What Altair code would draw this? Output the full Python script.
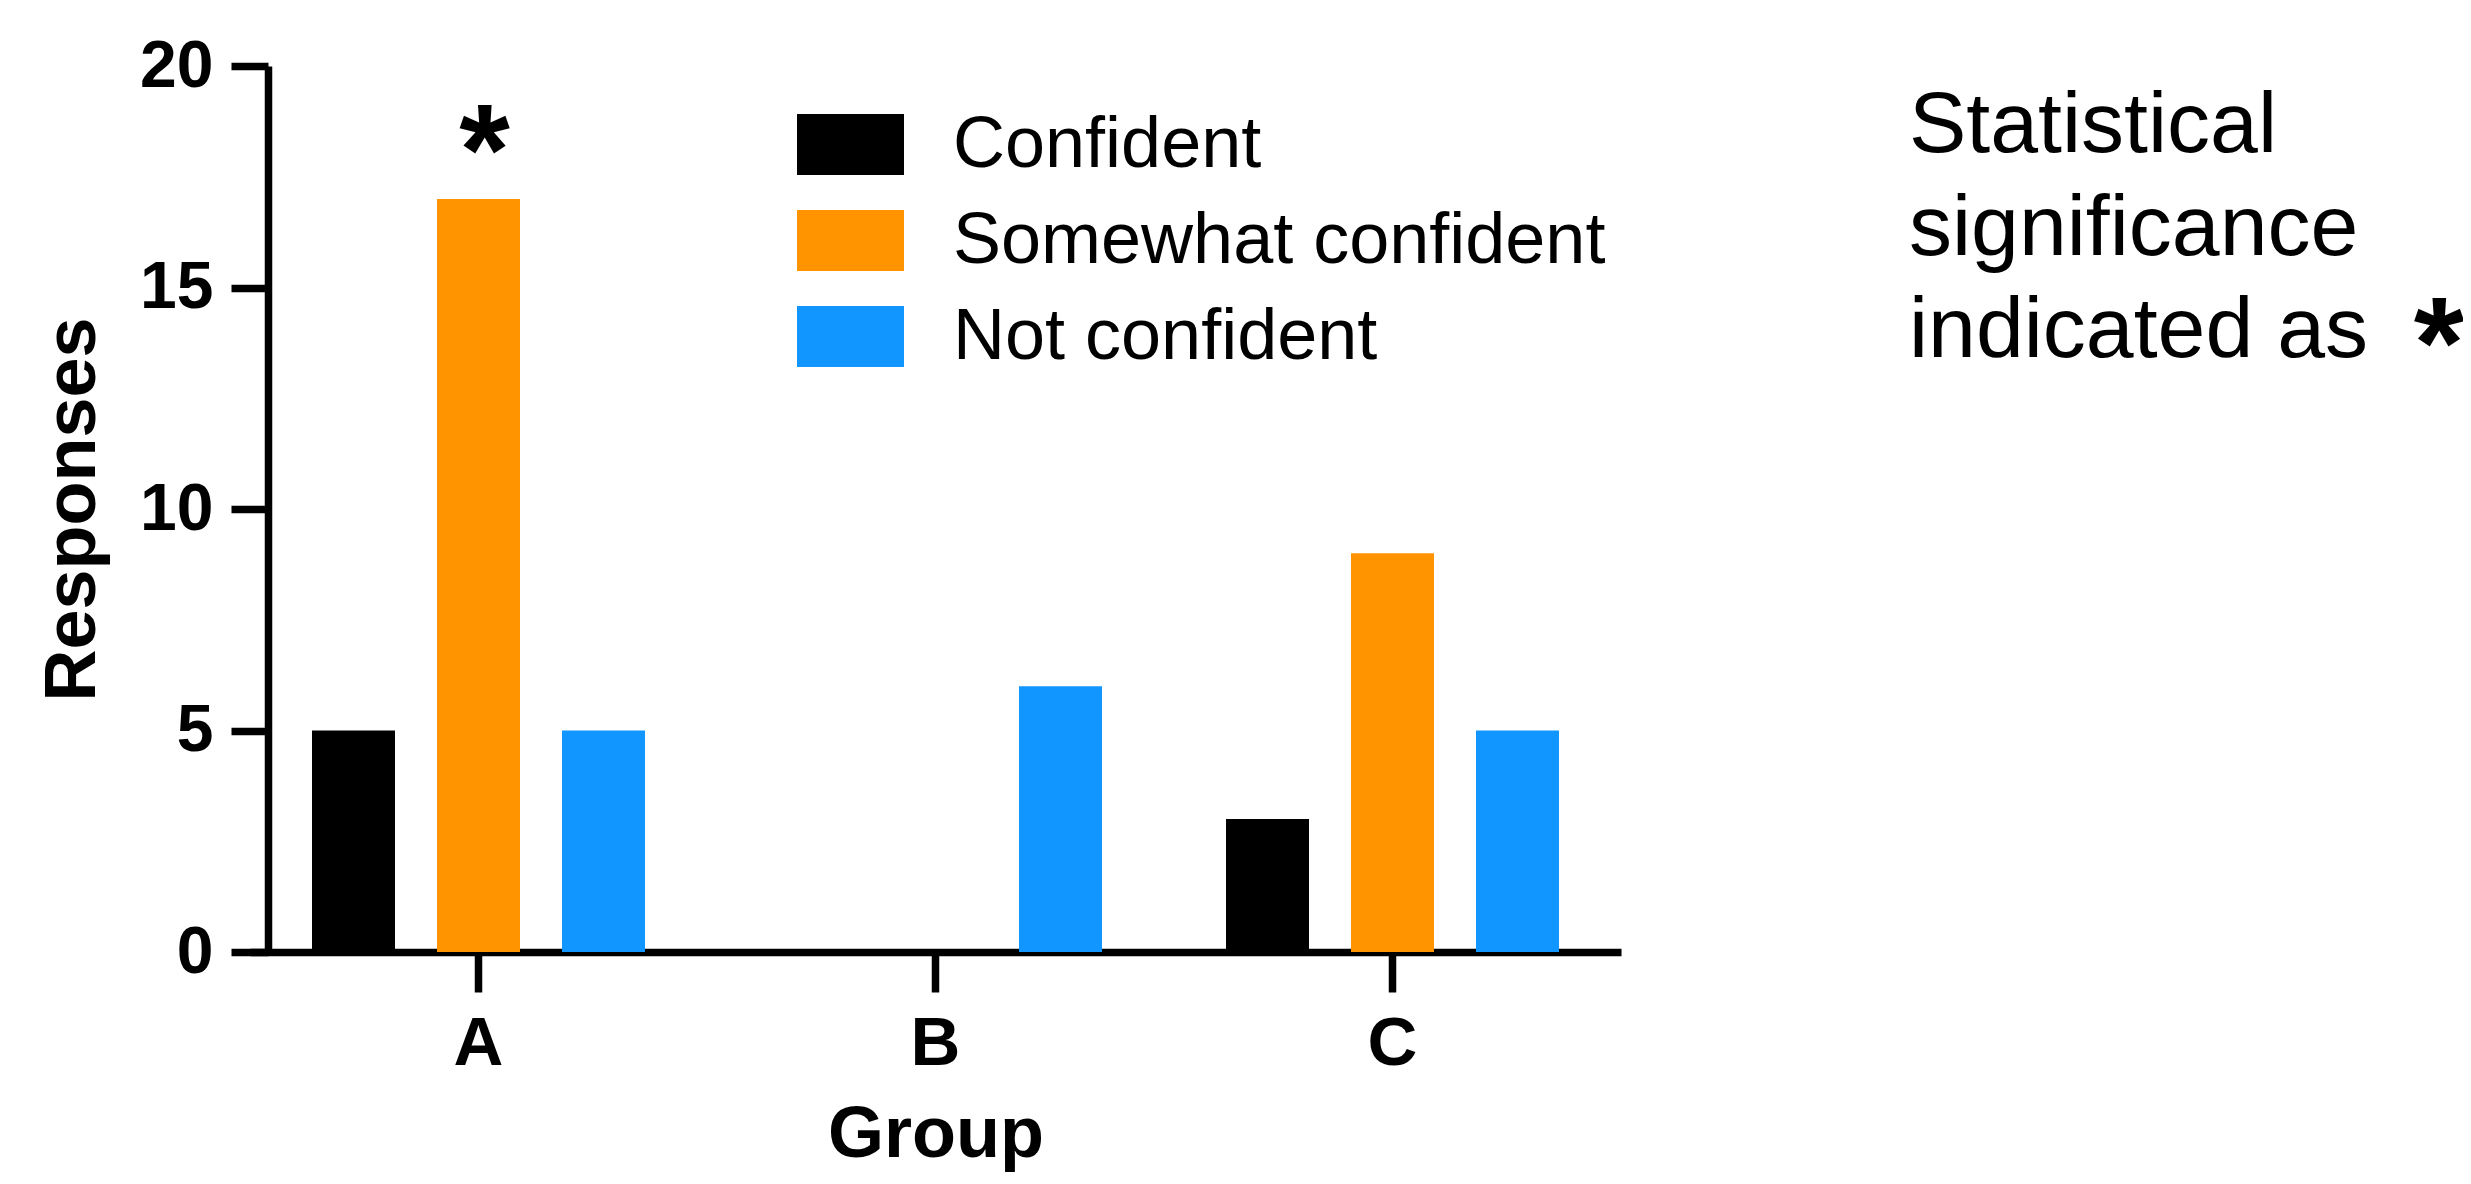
import altair as alt
import pandas as pd

groups = ["A", "B", "C"]
categories = ["Confident", "Somewhat confident", "Not confident"]
values = {
    "Confident": [5, 0, 3],
    "Somewhat confident": [17, 0, 9],
    "Not confident": [5, 6, 5],
}
colors = ["#000000", "#FF9300", "#1196FF"]
sig_marks = [("A", "Somewhat confident", 17, "*")]
note_text = "Statistical\nsignificance\nindicated as"

rows = []
for cat in categories:
    for g, v in zip(groups, values[cat]):
        rows.append({"Group": g, "Category": cat, "Responses": v})
df = pd.DataFrame(rows)
sig_df = pd.DataFrame([{"Group": g, "Category": c, "Responses": v, "label": l} for g, c, v, l in sig_marks])

FONT = "Liberation Sans"
W, H = 1371, 886

x_enc = alt.X("Group:N", sort=groups, scale=alt.Scale(paddingInner=0, paddingOuter=0),
              axis=alt.Axis(title="Group", labelAngle=0, labelFont=FONT, labelFontSize=69,
                            labelFontWeight="bold", labelColor="black", labelPadding=17,
                            titleFont=FONT, titleFontSize=72, titleFontWeight="bold",
                            titleColor="black", titlePadding=21,
                            domainColor="black", domainWidth=7.5, tickColor="black",
                            tickWidth=7.5, tickSize=40, grid=False))
xo_enc = alt.XOffset("Category:N", sort=categories,
                     scale=alt.Scale(paddingInner=0.336, paddingOuter=0.496))

bars = alt.Chart(df).mark_bar().encode(
    x=x_enc,
    xOffset=xo_enc,
    y=alt.Y("Responses:Q", scale=alt.Scale(domain=[0, 20], nice=False),
            axis=alt.Axis(title="Responses", values=[0, 5, 10, 15, 20], offset=-18,
                          labelFont=FONT, labelFontSize=66, labelFontWeight="bold",
                          labelColor="black", labelPadding=18,
                          titleFont=FONT, titleFontSize=72, titleFontWeight="bold",
                          titleColor="black", titlePadding=30,
                          domainColor="black", domainWidth=7.5, tickColor="black",
                          tickWidth=7.5, tickSize=37, grid=False)),
    color=alt.Color("Category:N", sort=categories,
                    scale=alt.Scale(domain=categories, range=colors),
                    legend=alt.Legend(title=None, orient="none", legendX=547, legendY=25,
                                      symbolType="M-1,-0.57L1,-0.57L1,0.57L-1,0.57Z",
                                      symbolSize=11449, symbolStrokeWidth=0,
                                      symbolOpacity=1, labelFont=FONT, labelFontSize=72,
                                      labelColor="black", labelOffset=49, rowPadding=6,
                                      labelLimit=0, padding=0)),
)

stars = alt.Chart(sig_df).mark_text(font=FONT, fontSize=130, fontWeight="bold",
                                    baseline="alphabetic", align="center", dy=-4, dx=6,
                                    color="black").encode(
    x=alt.X("Group:N", sort=groups),
    xOffset=alt.XOffset("Category:N", sort=categories),
    y=alt.Y("Responses:Q"),
    text="label:N",
)

note = alt.Chart(pd.DataFrame({"t": [note_text]})).mark_text(
    font=FONT, fontSize=86, align="left", baseline="alphabetic", color="black",
    lineBreak="\n", lineHeight=102.5).encode(
    x=alt.value(1659), y=alt.value(86), text="t:N")

note_star = alt.Chart(pd.DataFrame({"s": ["*"]})).mark_text(
    font=FONT, fontSize=130, fontWeight="bold", align="center", baseline="alphabetic",
    color="black").encode(x=alt.value(2189), y=alt.value(322), text="s:N")

chart = alt.layer(bars, stars, note, note_star).properties(
    width=W, height=H,
    autosize=alt.AutoSizeParams(type="none"),
    padding={"left": 242, "top": 58, "right": 842, "bottom": 224},
).configure(background="white").configure_view(stroke=None, strokeWidth=0)

chart.save("out.html", embed_options={"renderer": "svg", "actions": False})
